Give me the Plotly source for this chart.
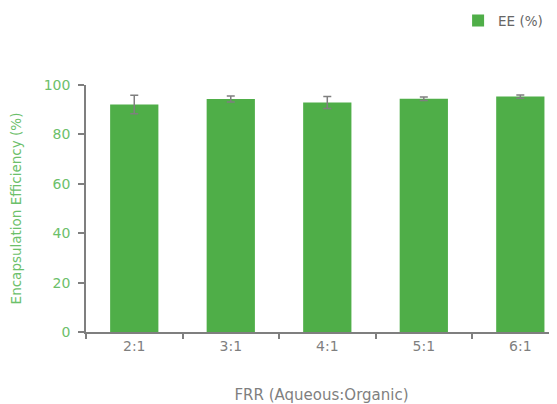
import plotly.graph_objects as go

categories = ["2:1", "3:1", "4:1", "5:1", "6:1"]
ee_values = [92.1, 94.3, 92.9, 94.4, 95.3]
ee_errors = [3.7, 1.2, 2.4, 0.7, 0.7]
y_ticks = [0, 20, 40, 60, 80, 100]

GREEN = "#4fae48"
LABEL_GREEN = "#6cc06a"
GRAY = "#7f7f7f"
FONT = "DejaVu Sans"

fig = go.Figure()
fig.add_trace(go.Bar(
    x=categories, y=ee_values, name="EE (%)",
    marker=dict(color=GREEN, line=dict(width=0)),
    width=0.5,
    error_y=dict(type="data", array=ee_errors, visible=True,
                 color=GRAY, thickness=1.5, width=4),
))

fig.update_layout(
    width=549, height=396,
    margin=dict(l=78, r=0, t=77, b=72, autoexpand=False),
    paper_bgcolor="white", plot_bgcolor="white",
    font=dict(family=FONT, color=GRAY),
    showlegend=True,
    legend=dict(x=0.79, xanchor="left", y=1.26, yanchor="middle",
                orientation="h",
                font=dict(size=13.5, color="#666666", family=FONT),
                itemwidth=30, bgcolor="rgba(0,0,0,0)"),
)

fig.update_xaxes(
    type="category",
    range=[-0.5, 4.38],
    automargin=False,
    showline=True, linecolor=GRAY, linewidth=1.5,
    ticks="outside", tickson="boundaries", ticklen=5, tickcolor=GRAY, tickwidth=1.5,
    tickfont=dict(size=14, color=GRAY, family=FONT),
    title=dict(text="FRR (Aqueous:Organic)", font=dict(size=15, color=GRAY, family=FONT), standoff=40),
    showgrid=False, zeroline=False,
)
fig.update_yaxes(
    range=[0, 100],
    tickvals=y_ticks,
    automargin=False,
    showline=True, linecolor=GRAY, linewidth=1.5,
    ticks="outside", ticklen=6, tickcolor=GRAY, tickwidth=1.5,
    ticklabelstandoff=5,
    tickfont=dict(size=14, color=LABEL_GREEN, family=FONT),
    title=dict(text="Encapsulation Efficiency (%)", font=dict(size=13.5, color=LABEL_GREEN, family=FONT), standoff=22),
    showgrid=False, zeroline=False,
)

fig.write_html("out.html")
